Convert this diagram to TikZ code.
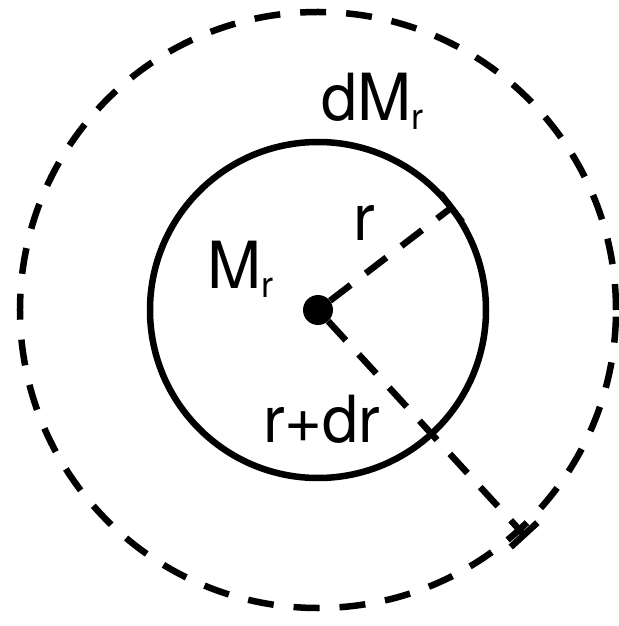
\documentclass[tikz,border=0pt]{standalone}
\usepackage{fontspec}
\setmainfont{TeX Gyre Heros}
\usetikzlibrary{calc}
\newcommand{\lowsub}[1]{\raisebox{-9pt}{\fontsize{36}{40}\selectfont #1}}

\begin{document}
\begin{tikzpicture}[x=1pt, y=1pt,
  shell/.style={line width=6.5pt},
  dshell/.style={line width=6.5pt, dash pattern=on 26pt off 20pt},
  rline/.style={line width=6.5pt, dash pattern=on 26pt off 19pt},
  rtick/.style={line width=6.5pt},
  lbl/.style={font=\fontsize{65}{70}\selectfont, inner sep=0pt, anchor=base west},
]
  \useasboundingbox (-318,-316) rectangle (300,310);

  % Shells
  \draw[shell] (0,0) circle[radius=168];
  \draw[dshell] (0,0) circle[radius=298];

  % Centre and radii
  \node[circle, fill, inner sep=0pt, minimum size=30pt] (o) at (0,0) {};
  \coordinate (rEnd) at (37.5:168);
  \coordinate (drEnd) at (-47.5:305);
  \draw[rline] (o) -- (rEnd);
  \draw[rline] (o) -- (drEnd);
  \draw[rtick] ($(rEnd)+(127.5:18)$) -- ($(rEnd)+(-52.5:18)$);
  \draw[rtick] ($(drEnd)+(42.5:18)$) -- ($(drEnd)+(-137.5:18)$);

  % Labels
  \node[lbl] (lblR) at (35,69) {r};
  \node[lbl] (lblMr) at (-111,21) {M\lowsub{r}};
  \node[lbl] (lblDMr) at (3,189) {dM\lowsub{r}};
  \node[lbl] (lblRdr) at (-55,-132) {r+dr};
\end{tikzpicture}
\end{document}
